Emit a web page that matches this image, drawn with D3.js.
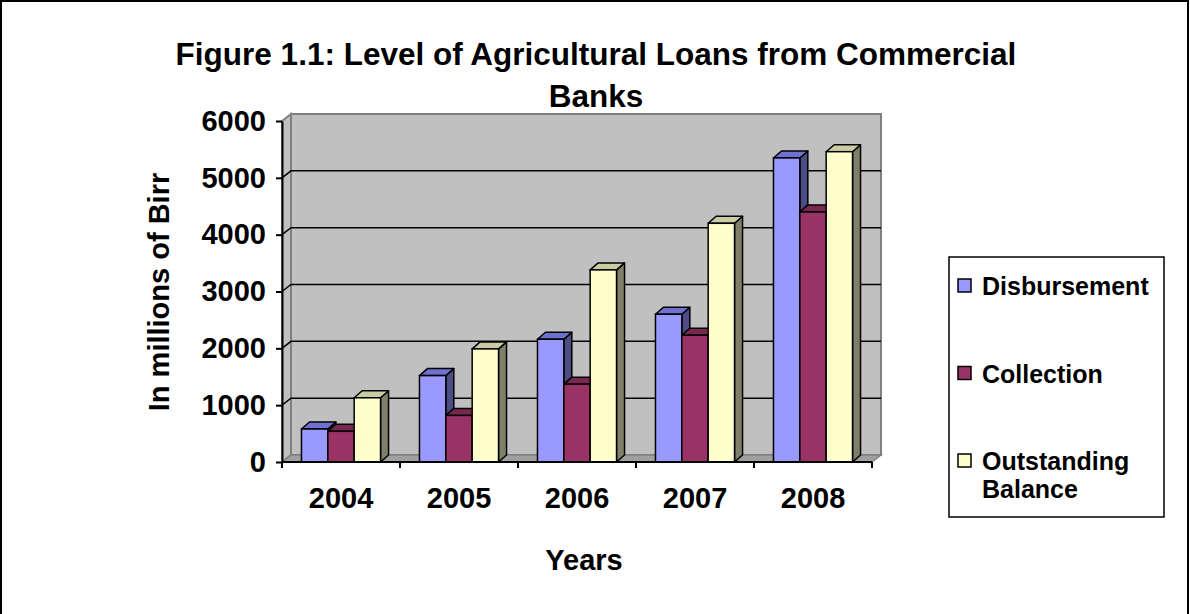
<!DOCTYPE html>
<html>
<head>
<meta charset="utf-8">
<script src="https://d3js.org/d3.v7.min.js"></script>
<style>
  body { margin: 0; background: #fff; }
  svg { display: block; }
  text { font-family: "Liberation Sans", Arial, sans-serif; font-weight: bold; fill: #000; }
</style>
</head>
<body>
<svg width="1190" height="614"></svg>
<script>
// data
var years = ["2004", "2005", "2006", "2007", "2008"];
var seriesNames = ["Disbursement", "Collection", "Outstanding Balance"];
var disbursement = [580, 1520, 2160, 2600, 5350];
var collection = [540, 820, 1370, 2230, 4400];
var outstanding = [1130, 1990, 3380, 4200, 5460];
var yTicks = [0, 1000, 2000, 3000, 4000, 5000, 6000];
var legendLines = [["Disbursement"], ["Collection"], ["Outstanding", "Balance"]];

function init(){

  var svg = d3.select("svg");

  // colours: front, top, side
  var front = d3.scaleOrdinal().domain(seriesNames).range(["#9999FF", "#993366", "#FFFFCC"]);
  var topC  = d3.scaleOrdinal().domain(seriesNames).range(["#7070D0", "#7A2852", "#CCCCA3"]);
  var sideC = d3.scaleOrdinal().domain(seriesNames).range(["#4D4D86", "#5C1F3D", "#80806A"]);

  // 3d depth of wall and bars
  var dx = 9, dy = -7;
  var bdx = 8, bdy = -7;

  var x0 = d3.scaleBand().domain(years).range([282, 872]).padding(0);
  var x1 = d3.scaleBand().domain(seriesNames)
      .range([x0.bandwidth() * 0.165, x0.bandwidth() * 0.835]);
  var y = d3.scaleLinear().domain([0, 6000]).range([462, 121]);

  var rows = years.map(function(yr, i){
    return {year: yr, values: [disbursement[i], collection[i], outstanding[i]]};
  });

  // outer frame
  svg.append("rect")
    .attr("x", 1).attr("y", 1)
    .attr("width", 1187).attr("height", 640)
    .attr("fill", "none")
    .attr("stroke", "#000")
    .attr("stroke-width", 2);

  // title
  var title = svg.append("text")
    .attr("text-anchor", "middle")
    .style("font-size", "31.5px");
  title.append("tspan").attr("x", 596).attr("y", 65)
    .text("Figure 1.1: Level of Agricultural Loans from Commercial");
  title.append("tspan").attr("x", 596).attr("y", 107)
    .text("Banks");

  var X0 = x0.range()[0], X1 = x0.range()[1];
  var Y0 = y(0), Ytop = y(6000);

  // back wall
  svg.append("rect")
    .attr("x", X0 + dx).attr("y", Ytop + dy)
    .attr("width", X1 - X0).attr("height", Y0 - Ytop)
    .attr("fill", "#C0C0C0")
    .attr("stroke", "#808080")
    .attr("stroke-width", 2);

  // side wall
  svg.append("polygon")
    .attr("points", [[X0, Ytop], [X0 + dx, Ytop + dy], [X0 + dx, Y0 + dy], [X0, Y0]].join(" "))
    .attr("fill", "#C0C0C0")
    .attr("stroke", "#808080")
    .attr("stroke-width", 2);

  // floor
  svg.append("polygon")
    .attr("points", [[X0, Y0], [X0 + dx, Y0 + dy], [X1 + dx, Y0 + dy], [X1, Y0]].join(" "))
    .attr("fill", "#A0A0A0")
    .attr("stroke", "#808080")
    .attr("stroke-width", 1.5);

  // gridlines
  svg.append("g")
    .selectAll("path")
    .data(yTicks.filter(function(d){ return d > 0 && d < 6000; }))
    .enter().append("path")
      .attr("d", function(d){
        return "M" + X0 + "," + y(d) + "L" + (X0 + dx) + "," + (y(d) + dy) + "L" + (X1 + dx) + "," + (y(d) + dy);
      })
      .attr("fill", "none")
      .attr("stroke", "#000")
      .attr("stroke-width", 1.5);

  // bars
  var groups = svg.append("g")
    .selectAll("g")
    .data(rows)
    .enter().append("g")
      .attr("transform", function(d){ return "translate(" + x0(d.year) + ",0)"; });

  var bars = groups.selectAll("g")
    .data(function(d){
      return d.values.map(function(v, j){ return {key: seriesNames[j], value: v}; });
    })
    .enter().append("g");

  var w = x1.bandwidth();

  bars.append("polygon")
    .attr("points", function(d){
      var bx = x1(d.key), by = y(d.value);
      return [[bx + w, by], [bx + w + bdx, by + bdy], [bx + w + bdx, Y0 + bdy], [bx + w, Y0]].join(" ");
    })
    .attr("fill", function(d){ return sideC(d.key); })
    .attr("stroke", "#000")
    .attr("stroke-width", 1.5)
    .attr("stroke-linejoin", "round");

  bars.append("polygon")
    .attr("points", function(d){
      var bx = x1(d.key), by = y(d.value);
      return [[bx, by], [bx + bdx, by + bdy], [bx + w + bdx, by + bdy], [bx + w, by]].join(" ");
    })
    .attr("fill", function(d){ return topC(d.key); })
    .attr("stroke", "#000")
    .attr("stroke-width", 1.5)
    .attr("stroke-linejoin", "round");

  bars.append("rect")
    .attr("x", function(d){ return x1(d.key); })
    .attr("y", function(d){ return y(d.value); })
    .attr("width", w)
    .attr("height", function(d){ return Y0 - y(d.value); })
    .attr("fill", function(d){ return front(d.key); })
    .attr("stroke", "#000")
    .attr("stroke-width", 1.5);

  // y axis
  var yAxis = svg.append("g")
    .attr("transform", "translate(" + X0 + ",0)")
    .call(d3.axisLeft(y).tickValues(yTicks).tickFormat(d3.format("d"))
      .tickSize(6).tickSizeOuter(0).tickPadding(10));
  yAxis.select(".domain").attr("stroke", "#000").attr("stroke-width", 2);
  yAxis.selectAll(".tick line").attr("stroke", "#000").attr("stroke-width", 2);
  yAxis.selectAll(".tick text")
    .style("font-family", "'Liberation Sans', Arial, sans-serif")
    .style("font-weight", "bold")
    .style("font-size", "29px")
    .attr("fill", "#000");

  // x axis line and ticks at category boundaries
  svg.append("line")
    .attr("x1", X0).attr("x2", X1)
    .attr("y1", Y0).attr("y2", Y0)
    .attr("stroke", "#000")
    .attr("stroke-width", 2);

  svg.append("g")
    .selectAll("line")
    .data(years.map(function(d){ return x0(d); }).concat([X1]))
    .enter().append("line")
      .attr("x1", function(d){ return d; })
      .attr("x2", function(d){ return d; })
      .attr("y1", Y0).attr("y2", Y0 + 6)
      .attr("stroke", "#000")
      .attr("stroke-width", 2);

  var xAxis = svg.append("g")
    .attr("transform", "translate(0," + Y0 + ")")
    .call(d3.axisBottom(x0).tickSize(0).tickPadding(25));
  xAxis.select(".domain").remove();
  xAxis.selectAll(".tick text")
    .style("font-family", "'Liberation Sans', Arial, sans-serif")
    .style("font-weight", "bold")
    .style("font-size", "29px")
    .attr("fill", "#000");

  // axis titles
  svg.append("text")
    .attr("transform", "translate(169,292) rotate(-90)")
    .attr("text-anchor", "middle")
    .style("font-size", "29px")
    .text("In millions of Birr");

  svg.append("text")
    .attr("x", 584)
    .attr("y", 570)
    .attr("text-anchor", "middle")
    .style("font-size", "29px")
    .text("Years");

  // legend
  svg.append("rect")
    .attr("x", 949).attr("y", 257)
    .attr("width", 215).attr("height", 260)
    .attr("fill", "#fff")
    .attr("stroke", "#000")
    .attr("stroke-width", 1.5);

  var ly = d3.scalePoint().domain(seriesNames).range([295, 470]);

  var legend = svg.selectAll(".legend")
    .data(seriesNames)
    .enter().append("g")
      .attr("class", "legend")
      .attr("transform", function(d){ return "translate(0," + ly(d) + ")"; });

  legend.append("rect")
    .attr("x", 958)
    .attr("y", -16)
    .attr("width", 13)
    .attr("height", 13)
    .attr("fill", function(d){ return front(d); })
    .attr("stroke", "#000")
    .attr("stroke-width", 1.5);

  legend.append("text")
    .attr("x", 982)
    .style("font-size", "25px")
    .each(function(d, i){
      var t = d3.select(this);
      legendLines[i].forEach(function(line, k){
        t.append("tspan").attr("x", 982).attr("y", k * 28).text(line);
      });
    });
}

window.onload = init;
</script>
</body>
</html>
